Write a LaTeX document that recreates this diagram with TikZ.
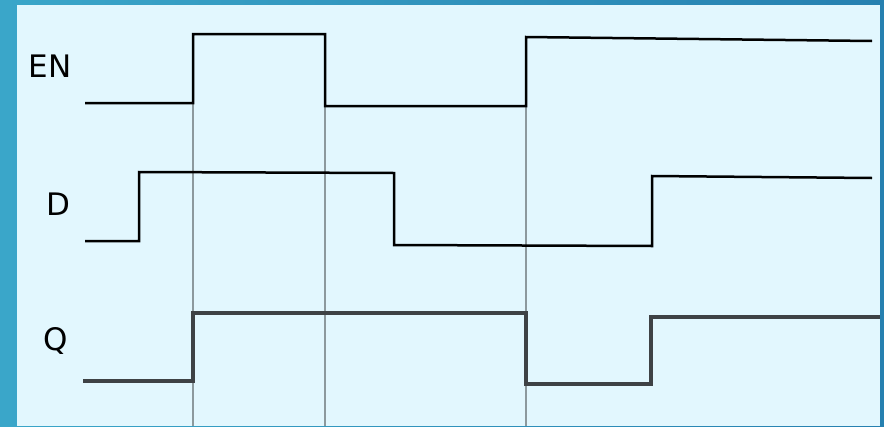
\documentclass[tikz,border=0pt]{standalone}
\usepackage{fontspec}
\setmainfont{DejaVu Sans}
\definecolor{frameL}{HTML}{3AA6C9}
\definecolor{frameR}{HTML}{2680B0}
\definecolor{panel}{HTML}{E2F7FE}
\definecolor{qgray}{HTML}{3E4245}
\definecolor{guidegray}{HTML}{8C999D}
\begin{document}
\begin{tikzpicture}
  [x=1pt,y=-1pt,
   every node/.style={font=\fontsize{31}{31}\selectfont,inner sep=0pt},
   sig/.style={line width=2.5pt,black},
   qsig/.style={line width=4.5pt,qgray},
   guide/.style={line width=1.5pt,guidegray}]
  \useasboundingbox (0,0) rectangle (884,426);
  \shade[left color=frameL,right color=frameR] (0,0) rectangle (884,426);
  \fill[panel] (17,5) rectangle (880,426);

  \node (en) at (50,66.5) {EN};
  \node (d) at (58,204) {D};
  \node (q) at (55.5,341) {Q};

  \coordinate (bot) at (0,426);
  \coordinate (e0) at (85,103);
  \coordinate (e1) at (193,103);
  \coordinate (e2) at (193,34);
  \coordinate (e3) at (325,34);
  \coordinate (e4) at (325,106);
  \coordinate (e5) at (526,106);
  \coordinate (e6) at (526,37);
  \coordinate (e7) at (872,41);

  \foreach \c in {e1,e4,e5}
    \draw[guide] (\c) -- (\c |- bot);

  \draw[sig] (e0) -- (e1) -- (e2) -- (e3) -- (e4) -- (e5) -- (e6) -- (e7);
  \draw[sig] (85,241) -- (139,241) -- (139,172) -- (394,173) -- (394,245)
    -- (652,246) -- (652,176) -- (872,178);
  \draw[qsig] (83,381) -- (193,381) -- (193,313) -- (526,313) -- (526,384)
    -- (651,384) -- (651,317) -- (880,317);

\end{tikzpicture}
\end{document}
